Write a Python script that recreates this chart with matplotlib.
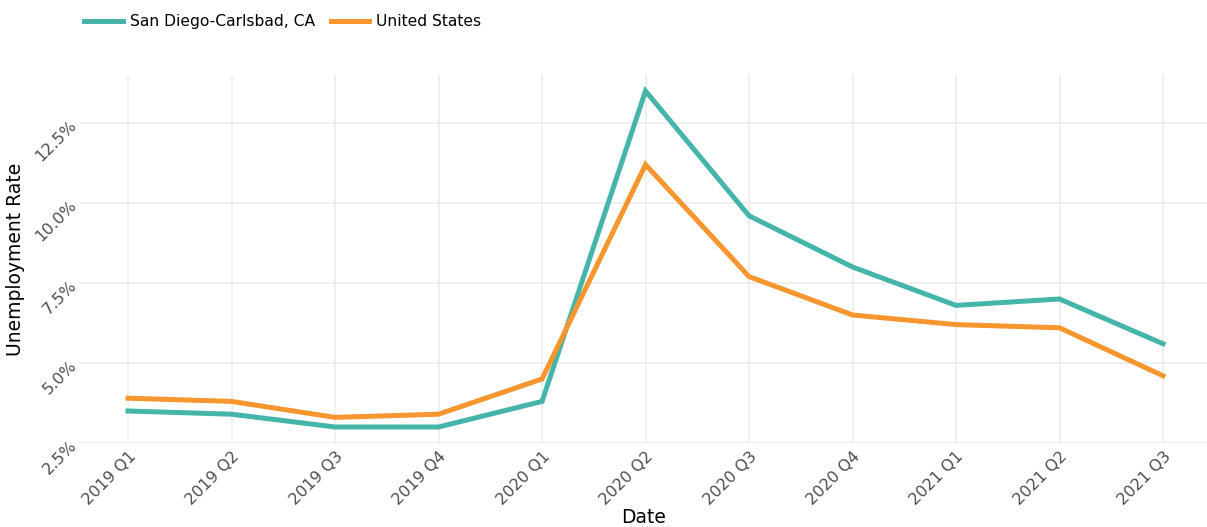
import matplotlib.pyplot as plt
from matplotlib.ticker import FuncFormatter

quarters = ["2019 Q1", "2019 Q2", "2019 Q3", "2019 Q4", "2020 Q1", "2020 Q2",
            "2020 Q3", "2020 Q4", "2021 Q1", "2021 Q2", "2021 Q3"]
san_diego = [3.5, 3.4, 3.0, 3.0, 3.8, 13.5, 9.6, 8.0, 6.8, 7.0, 5.6]
united_states = [3.9, 3.8, 3.3, 3.4, 4.5, 11.2, 7.7, 6.5, 6.2, 6.1, 4.6]
y_ticks = [2.5, 5.0, 7.5, 10.0, 12.5]

plt.rcParams['font.family'] = ['DejaVu Sans']

fig = plt.figure(figsize=(12.07, 5.27), dpi=100)
ax = fig.add_axes([0.0663, 0.1594, 0.9337, 0.6983])

x = range(len(quarters))
ax.plot(x, san_diego, color="#45B5AA", lw=3.6, label="San Diego-Carlsbad, CA",
        solid_joinstyle="miter")
ax.plot(x, united_states, color="#F7962F", lw=3.6, label="United States",
        solid_joinstyle="miter")

ax.set_xlim(-0.464, 10.425)
ax.set_ylim(2.5, 14.0)
ax.set_xticks(list(x))
ax.set_xticklabels(quarters, rotation=45, ha="right", va="top",
                   rotation_mode="anchor", color="#4d4d4d", fontsize=11.5)
ax.set_yticks(y_ticks)
ax.yaxis.set_major_formatter(FuncFormatter(lambda v, p: f"{v:.1f}%"))
for lab in ax.get_yticklabels():
    lab.set_rotation(45)
    lab.set_ha("right")
    lab.set_va("center")
    lab.set_rotation_mode("anchor")
    lab.set_color("#4d4d4d")
    lab.set_fontsize(11.5)

ax.tick_params(length=0, pad=4)
ax.grid(True, color="#ebebeb", lw=1.1)
ax.set_axisbelow(True)
for s in ax.spines.values():
    s.set_visible(False)

ax.set_xlabel("Date", fontsize=13.5, color="black", labelpad=0)
ax.set_ylabel("Unemployment Rate", fontsize=13.5, color="black", labelpad=6)

fig.legend(loc="upper left", bbox_to_anchor=(0.058, 1.0), ncol=2, frameon=False,
           fontsize=11.2, handlelength=2.5, handletextpad=0.45, columnspacing=1.0)

fig.savefig("out.png", dpi=100)
